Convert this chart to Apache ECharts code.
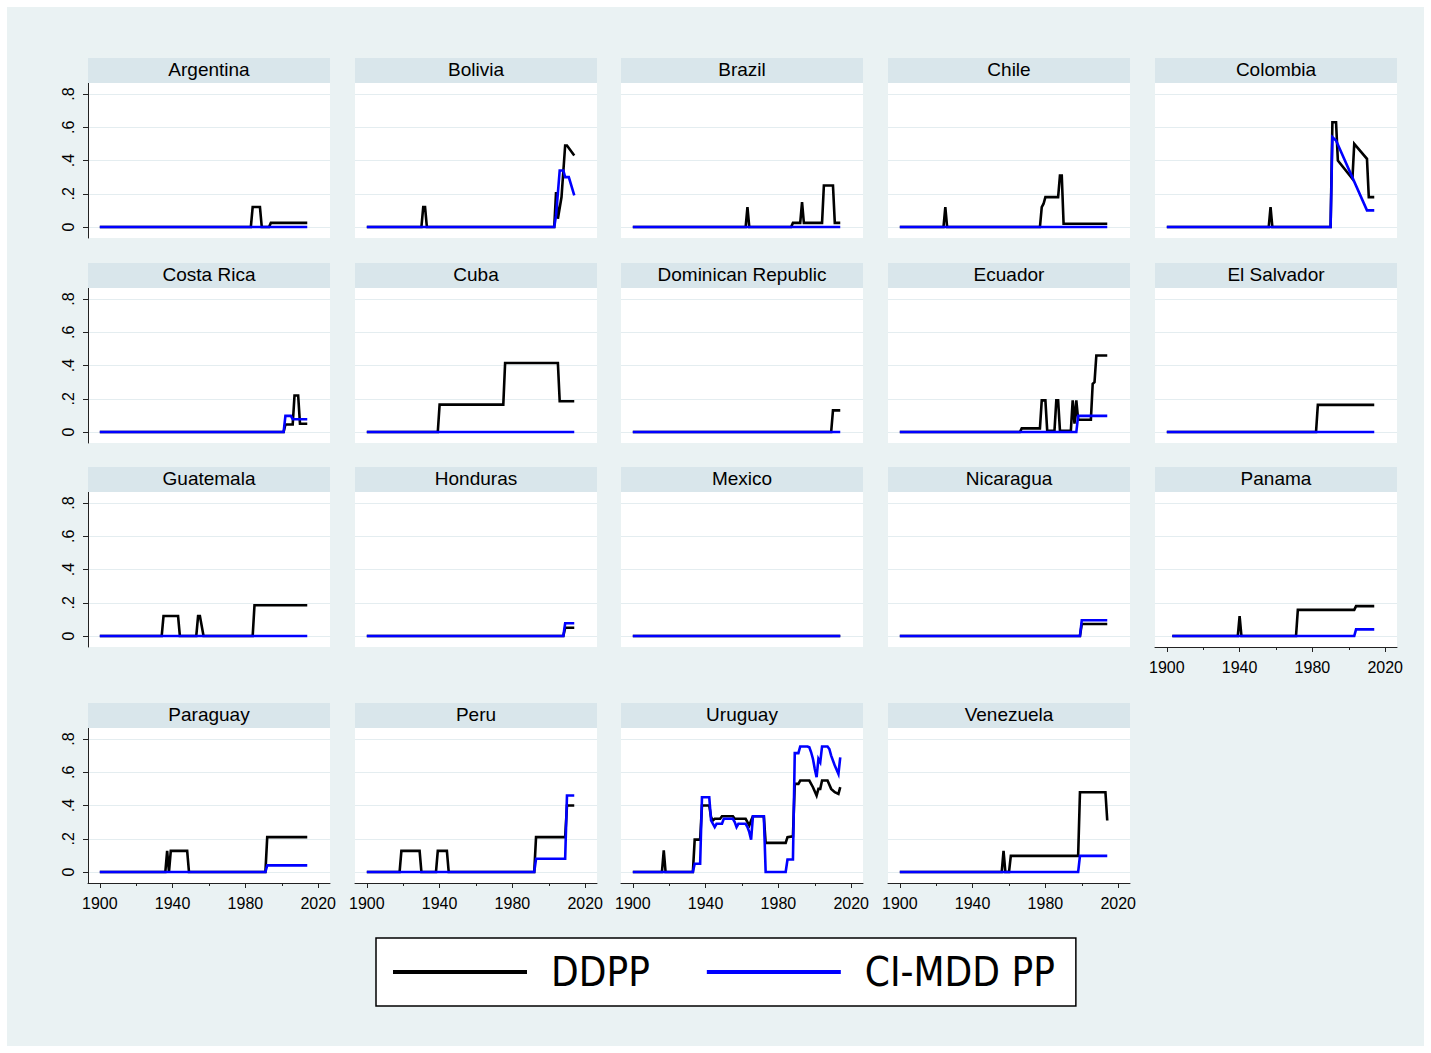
<!DOCTYPE html>
<html>
<head>
<meta charset="utf-8">
<script src="https://cdn.jsdelivr.net/npm/echarts@6/dist/echarts.min.js"></script>
<style>
html,body{margin:0;padding:0;background:#fff;}
#chart{width:1431px;height:1053px;}
</style>
</head>
<body>
<div id="chart"></div>
<script>
// ---------------- DATA ----------------
const countries = ['Argentina','Bolivia','Brazil','Chile','Colombia','Costa Rica','Cuba','Dominican Republic','Ecuador','El Salvador','Guatemala','Honduras','Mexico','Nicaragua','Panama','Paraguay','Peru','Uruguay','Venezuela'];
const seriesNames = ['DDPP', 'CI-MDD PP'];
const yTickValues = [0, 0.2, 0.4, 0.6, 0.8];
const yTickLabels = ['0', '.2', '.4', '.6', '.8'];
const xTickValues = [1900, 1940, 1980, 2020];
const xMinorTickValues = [1920, 1960, 2000];

const argentinaDDPP = [[1900,0],[1983,0],[1984,0.12],[1988,0.12],[1989,0],[1993,0],[1994,0.025],[2014,0.025]];
const argentinaCIMDD = [[1900,0],[2014,0]];
const boliviaDDPP = [[1900,0],[1930,0],[1931,0.12],[1932,0.12],[1933,0],[2003,0],[2004,0.21],[2005,0.05],[2007,0.18],[2009,0.49],[2010,0.49],[2014,0.43]];
const boliviaCIMDD = [[1900,0],[2003,0],[2004,0.07],[2006,0.34],[2008,0.34],[2009,0.30],[2011,0.30],[2014,0.19]];
const brazilDDPP = [[1900,0],[1962,0],[1963,0.12],[1964,0],[1987,0],[1988,0.025],[1992,0.025],[1993,0.15],[1994,0.025],[2004,0.025],[2005,0.25],[2010,0.25],[2011,0.025],[2014,0.025]];
const brazilCIMDD = [[1900,0],[2014,0]];
const chileDDPP = [[1900,0],[1924,0],[1925,0.12],[1926,0],[1977,0],[1978,0.12],[1979,0.14],[1980,0.18],[1987,0.18],[1988,0.31],[1989,0.31],[1990,0.02],[2014,0.02]];
const chileCIMDD = [[1900,0],[2014,0]];
const colombiaDDPP = [[1900,0],[1956,0],[1957,0.12],[1958,0],[1990,0],[1991,0.63],[1993,0.63],[1994,0.40],[2002,0.29],[2003,0.50],[2010,0.41],[2011,0.18],[2014,0.18]];
const colombiaCIMDD = [[1900,0],[1990,0],[1991,0.54],[1993,0.52],[2010,0.10],[2014,0.10]];
const costaRicaDDPP = [[1900,0],[2001,0],[2002,0.045],[2006,0.045],[2007,0.22],[2009,0.22],[2010,0.05],[2014,0.05]];
const costaRicaCIMDD = [[1900,0],[2001,0],[2002,0.097],[2005,0.097],[2006,0.077],[2014,0.077]];
const cubaDDPP = [[1900,0],[1939,0],[1940,0.165],[1975,0.165],[1976,0.415],[2005,0.415],[2006,0.185],[2014,0.185]];
const cubaCIMDD = [[1900,0],[2014,0]];
const dominicanDDPP = [[1900,0],[2009,0],[2010,0.13],[2014,0.13]];
const dominicanCIMDD = [[1900,0],[2014,0]];
const ecuadorDDPP = [[1900,0],[1966,0],[1967,0.022],[1977,0.022],[1978,0.19],[1980,0.19],[1981,0.008],[1985,0.008],[1986,0.19],[1987,0.19],[1988,0.008],[1994,0.008],[1995,0.19],[1996,0.05],[1997,0.19],[1998,0.074],[2005,0.074],[2006,0.29],[2007,0.30],[2008,0.46],[2014,0.46]];
const ecuadorCIMDD = [[1900,0],[1997,0],[1998,0.097],[2014,0.097]];
const elSalvadorDDPP = [[1900,0],[1982,0],[1983,0.163],[2014,0.163]];
const elSalvadorCIMDD = [[1900,0],[2014,0]];
const guatemalaDDPP = [[1900,0],[1934,0],[1935,0.12],[1943,0.12],[1944,0],[1953,0],[1954,0.12],[1955,0.12],[1957,0],[1984,0],[1985,0.185],[2014,0.185]];
const guatemalaCIMDD = [[1900,0],[2014,0]];
const hondurasDDPP = [[1900,0],[2008,0],[2009,0.05],[2014,0.05]];
const hondurasCIMDD = [[1900,0],[2008,0],[2009,0.077],[2014,0.077]];
const mexicoDDPP = [[1900,0],[2014,0]];
const mexicoCIMDD = [[1900,0],[2014,0]];
const nicaraguaDDPP = [[1900,0],[1999,0],[2000,0.072],[2014,0.072]];
const nicaraguaCIMDD = [[1900,0],[1999,0],[2000,0.095],[2014,0.095]];
const panamaDDPP = [[1903,0],[1939,0],[1940,0.12],[1941,0],[1971,0],[1972,0.157],[2003,0.157],[2004,0.18],[2014,0.18]];
const panamaCIMDD = [[1903,0],[2003,0],[2004,0.04],[2014,0.04]];
const paraguayDDPP = [[1900,0],[1936,0],[1937,0.127],[1938,0],[1939,0.127],[1948,0.127],[1949,0],[1991,0],[1992,0.21],[2014,0.21]];
const paraguayCIMDD = [[1900,0],[1991,0],[1992,0.04],[2014,0.04]];
const peruDDPP = [[1900,0],[1918,0],[1919,0.127],[1929,0.127],[1930,0],[1938,0],[1939,0.127],[1944,0.127],[1945,0],[1992,0],[1993,0.21],[2009,0.21],[2010,0.40],[2014,0.40]];
const peruCIMDD = [[1900,0],[1992,0],[1993,0.08],[2009,0.08],[2010,0.46],[2014,0.46]];
const uruguayDDPP = [[1900,0],[1916,0],[1917,0.13],[1918,0],[1933,0],[1934,0.195],[1937,0.195],[1938,0.40],[1942,0.40],[1943,0.33],[1944,0.31],[1945,0.32],[1948,0.32],[1949,0.335],[1955,0.335],[1956,0.32],[1962,0.32],[1963,0.30],[1964,0.28],[1965,0.31],[1966,0.335],[1972,0.335],[1973,0.175],[1984,0.175],[1985,0.21],[1988,0.215],[1989,0.53],[1991,0.53],[1992,0.55],[1997,0.55],[1999,0.51],[2001,0.46],[2002,0.50],[2003,0.50],[2004,0.55],[2007,0.55],[2009,0.50],[2011,0.48],[2013,0.47],[2014,0.51]];
const uruguayCIMDD = [[1900,0],[1933,0],[1934,0.05],[1937,0.05],[1938,0.45],[1942,0.45],[1943,0.31],[1945,0.27],[1946,0.29],[1949,0.29],[1950,0.32],[1955,0.32],[1956,0.30],[1957,0.27],[1958,0.29],[1962,0.29],[1963,0.27],[1964,0.24],[1965,0.195],[1966,0.335],[1972,0.335],[1973,0],[1984,0],[1985,0.075],[1988,0.075],[1989,0.715],[1991,0.715],[1992,0.755],[1996,0.755],[1997,0.75],[1998,0.72],[1999,0.68],[2000,0.62],[2001,0.57],[2002,0.68],[2003,0.66],[2004,0.755],[2007,0.755],[2008,0.74],[2009,0.70],[2011,0.64],[2013,0.59],[2014,0.69]];
const venezuelaDDPP = [[1900,0],[1956,0],[1957,0.127],[1958,0],[1960,0],[1961,0.097],[1998,0.097],[1999,0.48],[2013,0.48],[2014,0.31]];
const venezuelaCIMDD = [[1900,0],[1998,0],[1999,0.097],[2014,0.097]];

const ddppByCountry = [argentinaDDPP, boliviaDDPP, brazilDDPP, chileDDPP, colombiaDDPP, costaRicaDDPP, cubaDDPP, dominicanDDPP, ecuadorDDPP, elSalvadorDDPP, guatemalaDDPP, hondurasDDPP, mexicoDDPP, nicaraguaDDPP, panamaDDPP, paraguayDDPP, peruDDPP, uruguayDDPP, venezuelaDDPP];
const cimddByCountry = [argentinaCIMDD, boliviaCIMDD, brazilCIMDD, chileCIMDD, colombiaCIMDD, costaRicaCIMDD, cubaCIMDD, dominicanCIMDD, ecuadorCIMDD, elSalvadorCIMDD, guatemalaCIMDD, hondurasCIMDD, mexicoCIMDD, nicaraguaCIMDD, panamaCIMDD, paraguayCIMDD, peruCIMDD, uruguayCIMDD, venezuelaCIMDD];

// ---------------- LAYOUT / STYLE ----------------
const colLeft = [88, 355, 621, 888, 1155];
const rowTop = [83, 288, 492, 728];
const panelW = 242, panelH = 155, stripH = 25;
const xExtent = [1893.5, 2026.5];
const yExtent = [-0.066, 0.866];
const FONT = "'Liberation Sans', Arial, Helvetica, sans-serif";
const NARROW = "'Liberation Sans Narrow', 'Arial Narrow', 'DejaVu Sans Condensed', sans-serif";
const lineColors = ['#000000', '#0000ff'];

const grids = [], xAxes = [], yAxes = [], series = [], graphics = [];
const minorXAxes = [];

graphics.push({type:'rect', z:-10, silent:true, shape:{x:7, y:7, width:1417, height:1039}, style:{fill:'#eaf2f3'}});

countries.forEach((name, i) => {
  const r = Math.floor(i / 5), c = i % 5;
  const left = colLeft[c], top = rowTop[r];
  const showX = (r === 3) || name === 'Panama';
  const showY = (c === 0);
  grids.push({left:left, top:top, width:panelW, height:panelH, show:true, backgroundColor:'#ffffff', borderWidth:0, containLabel:false});
  xAxes.push({
    type:'value', gridIndex:i, min:xExtent[0], max:xExtent[1], position:'bottom',
    axisLine:{show:showX, onZero:false, lineStyle:{color:'#222', width:1}},
    axisTick:{show:showX, customValues:xTickValues, length:5, lineStyle:{color:'#222', width:1}},
    axisLabel:{show:showX, customValues:xTickValues, margin:12, fontSize:16, color:'#000', fontFamily:FONT, formatter:(v)=>String(v)},
    splitLine:{show:false}
  });
  if (showX) minorXAxes.push(i);
  yAxes.push({
    type:'value', gridIndex:i, min:yExtent[0], max:yExtent[1], position:'left',
    axisLine:{show:showY, onZero:false, lineStyle:{color:'#222', width:1}},
    axisTick:{show:showY, customValues:yTickValues, length:5, lineStyle:{color:'#222', width:1}},
    axisLabel:{show:showY, customValues:yTickValues, rotate:90, margin:12, fontSize:16, color:'#000', fontFamily:FONT,
      formatter:(v)=>{ const k = yTickValues.findIndex(t => Math.abs(t - v) < 1e-9); return k >= 0 ? yTickLabels[k] : ''; }},
    splitLine:{show:true, lineStyle:{color:'#e4edf0', width:1.2}}
  });
  [ddppByCountry[i], cimddByCountry[i]].forEach((d, s) => {
    series.push({
      type:'line', name:seriesNames[s], xAxisIndex:i, yAxisIndex:i, data:d,
      symbol:'none', showSymbol:false, silent:true, animation:false, z:2 + s,
      color:lineColors[s],
      lineStyle:{color:lineColors[s], width:2.6, cap:'butt', join:'miter'},
      itemStyle:{color:lineColors[s]},
      emphasis:{disabled:true}
    });
  });
  graphics.push({type:'rect', z:1, silent:true, shape:{x:left, y:top - stripH, width:panelW, height:stripH}, style:{fill:'#d9e6eb'}});
  graphics.push({type:'text', z:2, silent:true, x:left + panelW / 2, y:top - stripH / 2 - 0.8,
    style:{text:name, fontSize:19, fontFamily:FONT, fill:'#000', align:'center', verticalAlign:'middle', textAlign:'center', textVerticalAlign:'middle'}});
});

minorXAxes.forEach((gi) => {
  xAxes.push({
    type:'value', gridIndex:gi, min:xExtent[0], max:xExtent[1], position:'bottom',
    axisLine:{show:false, onZero:false}, splitLine:{show:false},
    axisTick:{show:true, customValues:xMinorTickValues, length:3, lineStyle:{color:'#222', width:1}},
    axisLabel:{show:false}
  });
});

const chart = echarts.init(document.getElementById('chart'), null, {renderer:'svg', width:1431, height:1053});
chart.setOption({
  backgroundColor:'#ffffff',
  animation:false,
  grid:grids,
  xAxis:xAxes,
  yAxis:yAxes,
  series:series,
  graphic:graphics,
  legend:{
    data:seriesNames, left:376, top:938, orient:'horizontal', selectedMode:false,
    icon:'rect', itemWidth:134, itemHeight:4, itemGap:57,
    padding:[12, 21, 12, 17],
    backgroundColor:'#ffffff', borderColor:'#000000', borderWidth:1.5, borderRadius:0,
    itemStyle:{borderWidth:0},
    textStyle:{fontSize:40, fontFamily:NARROW, color:'#000', padding:[0,0,0,19], lineHeight:44}
  }
});
</script>
</body>
</html>
